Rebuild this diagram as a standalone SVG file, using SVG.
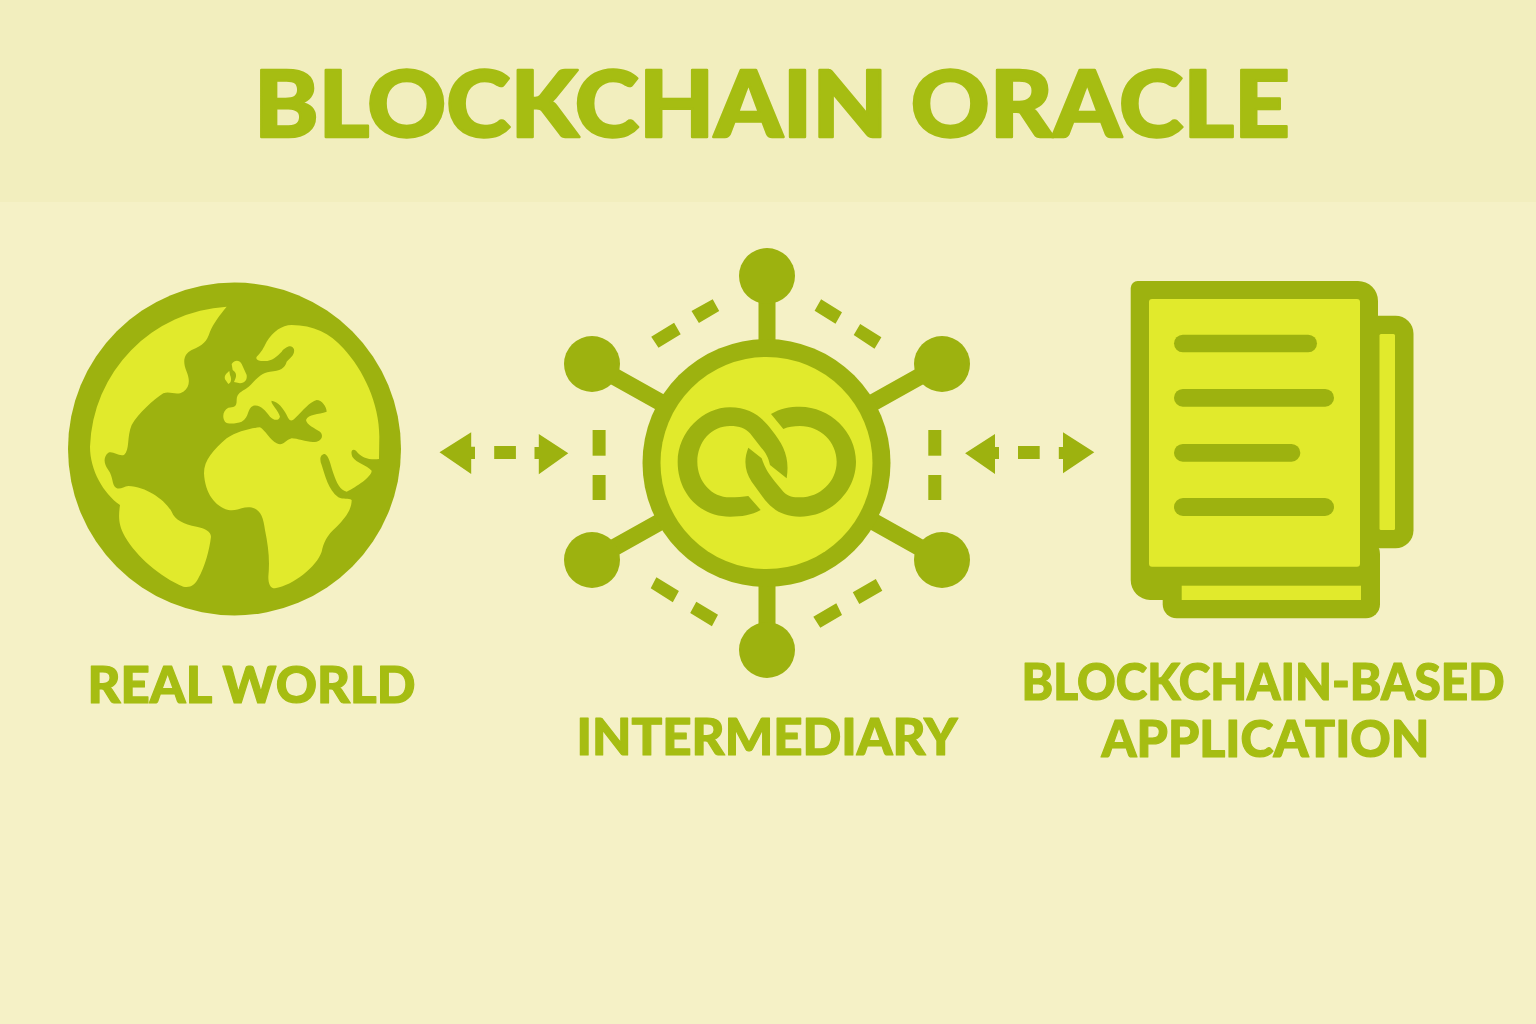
<svg xmlns="http://www.w3.org/2000/svg" width="1536" height="1024" viewBox="0 0 1536 1024">
<style>
.d{fill:#9db20f}.l{fill:#e1ea2c}.s{stroke:#9db20f;stroke-width:17;fill:none}
text{font-family:"Lato","Liberation Sans",sans-serif;font-weight:900;fill:#a6bd12;stroke:#a6bd12;stroke-width:1.2;stroke-linejoin:round;text-anchor:middle}
.t{font-size:51px}
</style>
<rect width="1536" height="1024" fill="#f5f1c6"/>
<rect width="1536" height="202" fill="#f2eebe"/>
<text x="772" y="137" font-size="92" style="stroke-width:2.5" textLength="1036" lengthAdjust="spacingAndGlyphs">BLOCKCHAIN ORACLE</text>
<g id="real-world">
<circle class="d" cx="234.5" cy="449" r="166.5"/>
<g class="l" transform="translate(50 260) scale(.33333)">
<path d="M530,140A435,435 0 0 0 120,560C120,630 160,700 210,735C205,770 205,795 225,830C260,890 330,950 400,980C420,985 435,975 445,955C465,920 478,870 483,830C483,815 465,805 440,800C400,792 375,780 365,755C345,720 290,680 235,678C220,680 210,690 198,683C185,675 190,650 175,630C160,610 160,590 175,578C190,572 205,590 222,585C240,570 230,530 245,495C265,460 310,420 340,400C360,392 380,408 400,395C420,380 420,360 410,335C395,300 405,280 425,270C460,255 470,245 480,215C490,190 510,165 530,140Z"/>
<path d="M620,290C635,275 640,265 650,245C670,215 695,195 725,195C790,195 840,220 880,265C940,330 988,430 988,530L987,597C960,600 935,595 918,572C908,565 900,572 907,590C920,610 950,615 965,632C965,650 920,680 890,695C870,690 860,670 850,640C840,610 838,590 825,582C810,582 808,600 815,615C825,645 835,690 865,712C880,720 895,712 905,720C905,750 885,775 860,800C830,825 820,850 815,875C800,920 730,975 675,985C660,985 655,970 655,950C660,900 655,860 645,810C640,770 630,745 600,742C575,740 560,755 535,750C495,740 465,700 462,640C462,600 490,570 530,535C560,515 600,505 630,502C645,510 660,540 680,550C700,560 705,540 725,535C745,535 775,550 800,545C818,540 820,525 810,515C795,505 770,495 768,480C775,460 805,465 830,455C830,440 815,420 800,420C780,425 760,450 735,475C720,490 715,475 710,465C700,445 685,425 665,422C660,430 685,450 690,470C685,485 670,480 660,470C645,450 630,432 610,437C590,445 600,470 575,485C560,490 535,495 525,485C515,470 520,450 535,443C550,440 560,445 560,420C560,400 575,395 590,385C610,370 625,340 660,335C690,332 705,325 710,305C720,295 735,285 732,268C725,250 705,262 695,275C680,290 665,305 640,303C630,303 615,300 620,290Z"/>
<path d="M545,312C555,298 568,300 575,312L590,345C592,360 585,368 570,370L552,366C560,350 562,340 548,330Z"/>
<path d="M538,333C530,340 522,345 525,358L535,372C545,368 545,355 540,345Z"/>
</g>
<text class="t" x="251.500" y="703" textLength="328" lengthAdjust="spacingAndGlyphs">REAL WORLD</text>
</g>
<g id="intermediary">
<path class="s" d="M767,276V650M592,364L942,560M942,364L592,560"/>
<g class="d">
<circle cx="767" cy="276" r="28"/><circle cx="767" cy="650" r="28"/>
<circle cx="592" cy="364" r="28"/><circle cx="942" cy="364" r="28"/>
<circle cx="592" cy="560" r="28"/><circle cx="942" cy="560" r="28"/>
<circle cx="766.500" cy="463" r="124"/>
</g>
<circle class="l" cx="766.500" cy="463" r="106"/>
<g class="d" transform="translate(640 360) scale(.33333)">
<path d="M362,450C335,465 305,470 270,470C180,470 113,400 113,305C113,215 190,142 270,142C330,142 365,170 395,210C430,255 450,290 440,355L390,315C385,290 375,275 365,265L330,220C315,205 300,198 270,198C215,198 172,245 172,305C172,365 215,412 270,412C290,412 310,410 325,408Z"/>
<path d="M393,162C420,145 450,140 480,140C570,140 648,215 648,305C648,395 570,470 480,470C430,470 400,450 375,420L335,365C315,335 310,300 325,263L365,295C375,325 385,340 405,365L430,395C445,410 460,412 480,412C540,412 590,365 590,305C590,245 540,198 480,198C460,198 445,200 430,207Z"/>
</g>
<text class="t" x="767" y="755" font-size="52" textLength="381" lengthAdjust="spacingAndGlyphs">INTERMEDIARY</text>
</g>
<g id="blockchain-application">
<rect class="d" x="1340" y="315.700" width="73.500" height="232.600" rx="18"/>
<rect class="d" x="1162.700" y="540" width="217.300" height="78.300" rx="14"/>
<path class="d" d="M1138,281H1358A20,20 0 0 1 1378,301V600H1150A20,20 0 0 1 1130.700,580V288A7,7 0 0 1 1138,281Z"/>
<rect class="l" x="1379.500" y="334" width="15.500" height="196" rx="1.500"/>
<rect class="l" x="1181.700" y="585.700" width="179.300" height="14.300"/>
<rect class="l" x="1149" y="299" width="211" height="267.700" rx="3"/>
<g class="d">
<rect x="1174" y="334.700" width="143" height="17.600" rx="8.800"/>
<rect x="1174" y="389" width="160" height="17.700" rx="8.800"/>
<rect x="1174" y="444" width="126.300" height="17.700" rx="8.800"/>
<rect x="1174" y="498" width="160" height="18" rx="9"/>
</g>
<text class="t" x="1263" y="700" textLength="483" lengthAdjust="spacingAndGlyphs">BLOCKCHAIN-BASED</text>
<text class="t" x="1265.500" y="757" textLength="328" lengthAdjust="spacingAndGlyphs">APPLICATION</text>
</g>
<g id="connectors" class="d">
<path d="M439.500,452.300L471.200,432.300V446.700H475V459H471.200V474Z"/>
<rect x="494.200" y="446" width="21.700" height="13"/>
<path d="M568.300,453.300L538.800,434V447H534.500V459H538.800V474.300Z"/>
<path d="M965.100,453.300L995,434V447H999V459H995V474Z"/>
<rect x="1018" y="446" width="21.700" height="13"/>
<path d="M1094.300,452.300L1063,432.300V447H1058.800V459H1063V473.300Z"/>
<rect x="592.600" y="430" width="13" height="25.700"/><rect x="592.600" y="475" width="13" height="25"/>
<rect x="928.300" y="430" width="13" height="25.700"/><rect x="928.300" y="475" width="13" height="25"/>
<path d="M651.200,336.700L674.100,322.700L680.700,334.300L658.500,347.700ZM691.500,311L712.700,299.300L719.200,311L698.900,323Z"/>
<path d="M814.600,310.700L821.100,299.300L842,312.300L835.500,323.700ZM853.700,335L860.200,324L881.400,337.300L874.500,348.700Z"/>
<path d="M650.700,588.300L656.400,577.300L678.900,591L672.800,602.300ZM690.200,613L696.300,601.700L718,614.700L711.900,626.300Z"/>
<path d="M813.300,616.700L836.300,603.300L842,615L820.300,627.700ZM852.800,592.300L875.800,579L882.300,590.700L859.300,604Z"/>
</g>
</svg>
